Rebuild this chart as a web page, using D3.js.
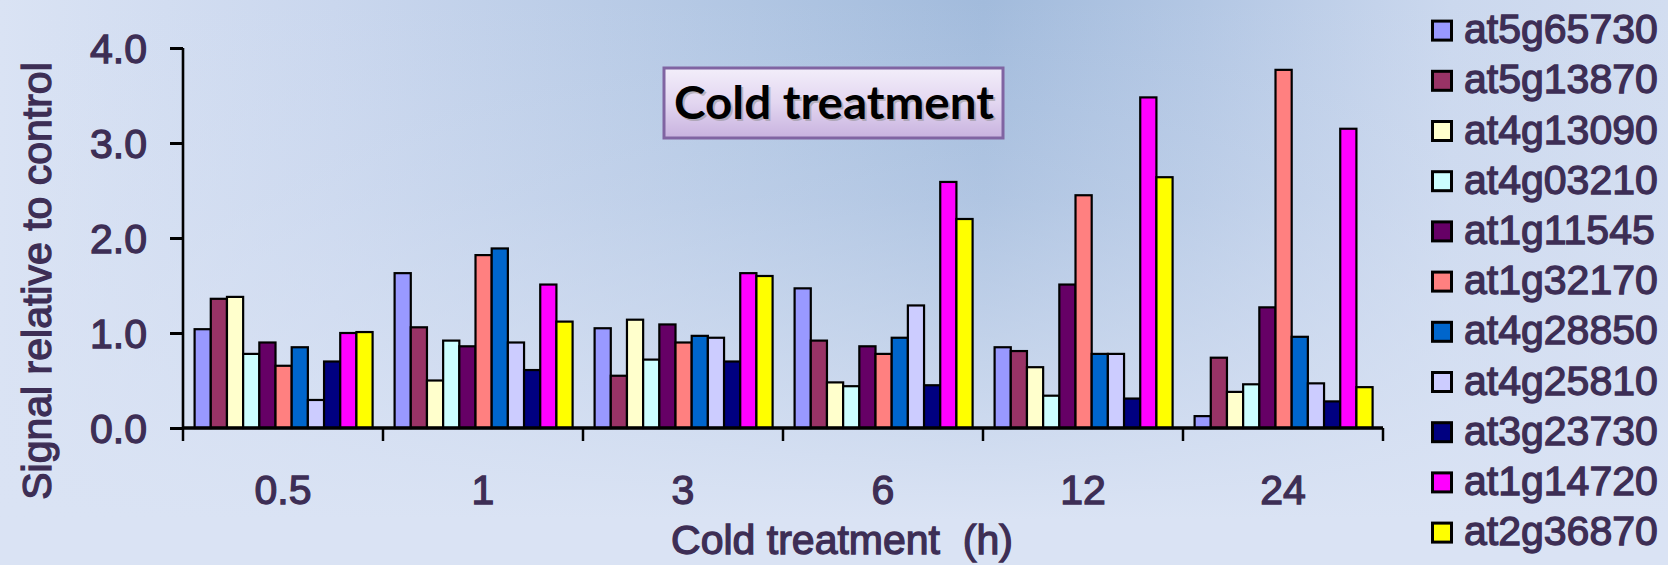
<!DOCTYPE html>
<html>
<head>
<meta charset="utf-8">
<script src="https://cdn.jsdelivr.net/npm/d3@7"></script>
<style>
  html, body { margin: 0; padding: 0; background: #dae3f4; }
  svg { display: block; }
</style>
</head>
<body>
<svg id="chart" width="1668" height="565"></svg>
<script>
// ---- data ----
const categories = ["0.5", "1", "3", "6", "12", "24"];
const seriesNames = ["at5g65730", "at5g13870", "at4g13090", "at4g03210", "at1g11545",
  "at1g32170", "at4g28850", "at4g25810", "at3g23730", "at1g14720", "at2g36870"];
const seriesColors = ["#9999FF", "#993366", "#FFFFCC", "#CCFFFF", "#660066",
  "#FF8080", "#0066CC", "#CCCCFF", "#000080", "#FF00FF", "#FFFF00"];
const at5g65730 = [1.04, 1.63, 1.05, 1.47, 0.85, 0.125];
const at5g13870 = [1.36, 1.06, 0.55, 0.92, 0.81, 0.74];
const at4g13090 = [1.38, 0.50, 1.14, 0.48, 0.64, 0.38];
const at4g03210 = [0.78, 0.92, 0.72, 0.44, 0.34, 0.46];
const at1g11545 = [0.90, 0.86, 1.09, 0.86, 1.51, 1.27];
const at1g32170 = [0.655, 1.82, 0.90, 0.78, 2.45, 3.77];
const at4g28850 = [0.85, 1.89, 0.97, 0.95, 0.78, 0.96];
const at4g25810 = [0.295, 0.90, 0.95, 1.29, 0.78, 0.47];
const at3g23730 = [0.70, 0.61, 0.70, 0.45, 0.31, 0.28];
const at1g14720 = [1.00, 1.51, 1.63, 2.59, 3.48, 3.15];
const at2g36870 = [1.01, 1.12, 1.60, 2.20, 2.64, 0.43];
const seriesValues = [at5g65730, at5g13870, at4g13090, at4g03210, at1g11545,
  at1g32170, at4g28850, at4g25810, at3g23730, at1g14720, at2g36870];
const yTicks = [0, 1, 2, 3, 4];
const yTickLabels = ["0.0", "1.0", "2.0", "3.0", "4.0"];
const yTitle = "Signal relative to control";
const xTitle = "Cold treatment  (h)";
const chartTitle = "Cold treatment";

// ---- layout ----
const W = 1668, H = 565;
const plot = { left: 183, right: 1383, top: 48, bottom: 428 };
const textColor = "#3d2e55";
const fontFamily = "'Liberation Sans', Arial, sans-serif";
const textStroke = 1.3;

const svg = d3.select("#chart");
const defs = svg.append("defs");

// background gradients
const hg = defs.append("linearGradient").attr("id", "bgH").attr("x1", 0).attr("x2", 1).attr("y1", 0).attr("y2", 0);
[[0, "#dae3f4"], [0.2, "#cad7ee"], [0.45, "#b1c6e3"], [0.59, "#a2bbdc"], [0.72, "#b3c7e4"], [0.87, "#cbd8ee"], [1, "#d2ddf0"]]
  .forEach(([o, c]) => hg.append("stop").attr("offset", o).attr("stop-color", c));
const vg = defs.append("linearGradient").attr("id", "bgV").attr("x1", 0).attr("x2", 0).attr("y1", 0).attr("y2", 1);
[[0, 0], [0.35, 0.25], [0.7, 0.7], [0.92, 1], [1, 1]]
  .forEach(([o, a]) => vg.append("stop").attr("offset", o).attr("stop-color", "#dae3f4").attr("stop-opacity", a));
svg.append("rect").attr("width", W).attr("height", H).attr("fill", "url(#bgH)");
svg.append("rect").attr("width", W).attr("height", H).attr("fill", "url(#bgV)");

// scales
const x0 = d3.scaleBand().domain(categories).range([plot.left, plot.right]).paddingInner(0).paddingOuter(0);
const bw = x0.bandwidth();
const x1 = d3.scaleBand().domain(seriesNames).range([bw * 0.058, bw * 0.948]).padding(0);
const y = d3.scaleLinear().domain([0, 4]).range([plot.bottom, plot.top]);

// bars
const groups = svg.append("g").selectAll("g").data(categories).join("g")
  .attr("transform", d => `translate(${x0(d)},0)`);
groups.selectAll("rect")
  .data((c, ci) => seriesNames.map((s, si) => ({ s, si, v: seriesValues[si][ci] })))
  .join("rect")
  .attr("x", d => x1(d.s))
  .attr("width", x1.bandwidth())
  .attr("y", d => y(d.v))
  .attr("height", d => y(0) - y(d.v))
  .attr("fill", d => seriesColors[d.si])
  .attr("stroke", "#000")
  .attr("stroke-width", 2.2);

// y axis
const yAxis = d3.axisLeft(y).tickValues(yTicks).tickSize(13).tickFormat((d, i) => yTickLabels[i]);
const gy = svg.append("g").attr("transform", `translate(${plot.left},0)`).call(yAxis);
gy.select(".domain").attr("stroke", "#000").attr("stroke-width", 2.6).attr("d", `M0,${plot.top}V${plot.bottom}`);
gy.selectAll(".tick line").attr("stroke", "#000").attr("stroke-width", 3);
gy.selectAll(".tick text")
  .attr("x", -36).attr("dy", "0.36em")
  .attr("fill", textColor).attr("stroke", textColor).attr("stroke-width", textStroke)
  .style("font-family", fontFamily).style("font-size", "41px");

// x axis: ticks at group boundaries
const boundaries = categories.map(c => x0(c)).concat([plot.right]);
const gx = svg.append("g");
gx.append("line").attr("x1", plot.left).attr("x2", plot.right).attr("y1", plot.bottom).attr("y2", plot.bottom)
  .attr("stroke", "#000").attr("stroke-width", 3.5);
gx.selectAll("line.sep").data(boundaries).join("line").attr("class", "sep")
  .attr("x1", d => d).attr("x2", d => d).attr("y1", plot.bottom).attr("y2", plot.bottom + 13)
  .attr("stroke", "#000").attr("stroke-width", 2.5);
gx.selectAll("text").data(categories).join("text")
  .attr("x", d => x0(d) + bw / 2).attr("y", 504)
  .attr("text-anchor", "middle")
  .attr("fill", textColor).attr("stroke", textColor).attr("stroke-width", textStroke)
  .style("font-family", fontFamily).style("font-size", "41px")
  .text(d => d);

// axis titles
svg.append("text")
  .attr("transform", `translate(51,281) rotate(-90)`)
  .attr("text-anchor", "middle")
  .attr("fill", textColor).attr("stroke", textColor).attr("stroke-width", textStroke)
  .style("font-family", fontFamily).style("font-size", "41px")
  .text(yTitle);
svg.append("text")
  .attr("x", 842).attr("y", 554).attr("text-anchor", "middle")
  .attr("fill", textColor).attr("stroke", textColor).attr("stroke-width", textStroke)
  .style("font-family", fontFamily).style("font-size", "41px")
  .style("white-space", "pre").attr("xml:space", "preserve")
  .text(xTitle);

// legend
const legend = svg.append("g").attr("transform", "translate(1431,0)");
const li = legend.selectAll("g").data(seriesNames).join("g")
  .attr("transform", (d, i) => `translate(0,${30.6 + i * 50.2})`);
li.append("rect").attr("x", 1.5).attr("y", -9.5).attr("width", 19).attr("height", 19)
  .attr("fill", (d, i) => seriesColors[i]).attr("stroke", "#000").attr("stroke-width", 3);
li.append("text").attr("x", 33).attr("y", 12.5)
  .attr("fill", textColor).attr("stroke", textColor).attr("stroke-width", textStroke)
  .style("font-family", fontFamily).style("font-size", "41px")
  .text(d => d);

// title box
const tg = defs.append("linearGradient").attr("id", "titleG").attr("x1", 0).attr("x2", 0).attr("y1", 0).attr("y2", 1);
[[0, "#f3eefa"], [0.5, "#e2d6f0"], [1, "#c8b2df"]].forEach(([o, c]) => tg.append("stop").attr("offset", o).attr("stop-color", c));
svg.append("rect").attr("x", 664).attr("y", 68).attr("width", 339).attr("height", 70)
  .attr("fill", "url(#titleG)").attr("stroke", "#8064a2").attr("stroke-width", 3);
svg.append("text").attr("x", 676).attr("y", 121)
  .attr("fill", "#8a8a8a").attr("opacity", 0.5)
  .attr("textLength", 320).attr("lengthAdjust", "spacingAndGlyphs")
  .style("font-family", "Lato, 'Open Sans', sans-serif").style("font-weight", "bold").style("font-size", "45px")
  .text(chartTitle);
svg.append("text").attr("x", 674).attr("y", 119)
  .attr("fill", "#000")
  .attr("textLength", 320).attr("lengthAdjust", "spacingAndGlyphs")
  .style("font-family", "Lato, 'Open Sans', sans-serif").style("font-weight", "bold").style("font-size", "45px")
  .text(chartTitle);
</script>
</body>
</html>
